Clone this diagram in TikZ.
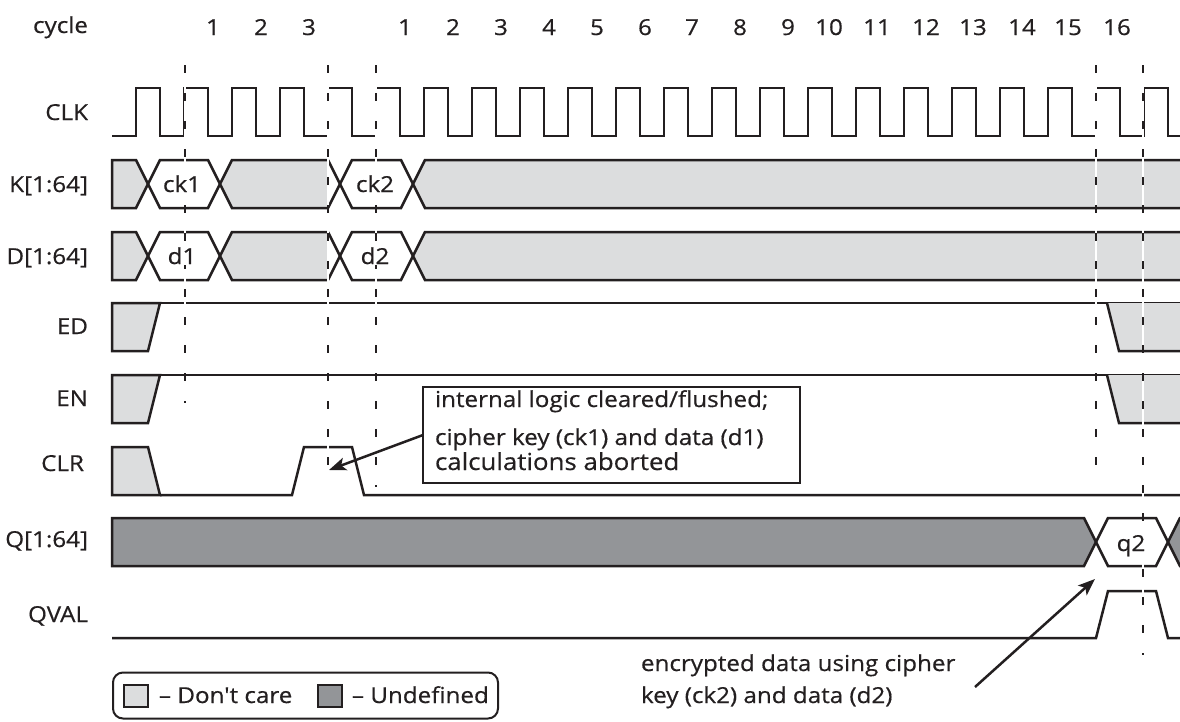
\documentclass[tikz,border=0pt]{standalone}
\usepackage{fontspec}
\newfontfamily\tdfont{Open Sans}[FakeStretch=1.1,FakeBold=0.5]
\usetikzlibrary{arrows.meta}
\definecolor{lg}{HTML}{DCDDDE}
\definecolor{dg}{HTML}{939598}
\definecolor{ink}{HTML}{231F20}
\begin{document}
\begin{tikzpicture}[x=1pt,y=-1pt,
  sig/.style={draw=ink,line width=2.5pt,line join=miter},
  dc/.style={fill=lg},
  ud/.style={fill=dg},
  lbl/.style={anchor=base east,text=ink},
  num/.style={anchor=base,text=ink},
  bustxt/.style={anchor=base,text=ink,fill=white,inner sep=1pt},
  txt/.style={anchor=base west,text=ink},
  guide/.style={draw=ink,line width=1.3pt,dash pattern=on 8pt off 20pt},
  guidebg/.style={draw=white,line width=1.3pt},
  callout/.style={draw=ink,line width=2.5pt,-{Stealth[length=17pt,width=13pt,inset=4pt]}},
  every node/.style={font=\tdfont\fontsize{22}{26}\selectfont,inner sep=0pt,outer sep=0pt}
]
\useasboundingbox (0,0) rectangle (1180,721);
\begin{scope}
\clip (0,0) rectangle (1180,721);

% ---------- row labels ----------
\node[lbl] (lcycle) at (88,33) {cycle};
\node[lbl] (lclk) at (88,120) {CLK};
\node[lbl] (lk) at (88,192) {K[1:64]};
\node[lbl] (ld) at (88,264) {D[1:64]};
\node[lbl] (led) at (88,334) {ED};
\node[lbl] (len) at (88,406) {EN};
\node[lbl] (lclr) at (84,471) {CLR};
\node[lbl] (lq) at (88,547) {Q[1:64]};
\node[lbl] (lqval) at (88,622) {QVAL};

% ---------- cycle numbers ----------
\foreach \x/\t [count=\i] in {213/1,261/2,309/3}
  \node[num] (na\i) at (\x,35) {\t};
\foreach \x/\t [count=\i] in {405/1,453/2,501/3,549/4,597/5,645/6,692/7,740/8,788/9,829/10,877/11,926/12,973/13,1022/14,1068/15,1117/16}
  \node[num] (nb\i) at (\x,35) {\t};

% ---------- CLK ----------
\draw[sig] (112,136) \foreach \k in {0,...,21} { -- ({136+48*\k},136) -- ++(0,-48) -- ++(24,0) -- ++(0,48) } -- (1190,136);

% ---------- K and D buses ----------
\foreach \dy in {0,72} {
\begin{scope}[shift={(0,\dy)}]
\path[dc,sig] (112,160) -- (136,160) -- (148,184) -- (136,208) -- (112,208) -- cycle;
\path[sig] (148,184) -- (160,160) -- (208,160) -- (220,184) -- (208,208) -- (160,208) -- cycle;
\fill[lg] (220,184) -- (232,160) -- (328,160) -- (328,208) -- (232,208) -- cycle;
\draw[sig] (328,160) -- (232,160) -- (220,184) -- (232,208) -- (328,208);
\draw[sig] (328,160) -- (340,184) -- (328,208);
\path[sig] (340,184) -- (352,160) -- (401,160) -- (413,184) -- (401,208) -- (352,208) -- cycle;
\fill[lg] (413,184) -- (425,160) -- (1190,160) -- (1190,208) -- (425,208) -- cycle;
\draw[sig] (1190,160) -- (425,160) -- (413,184) -- (425,208) -- (1190,208);
\end{scope}
}

% ---------- ED and EN ----------
\foreach \dy in {0,72} {
\begin{scope}[shift={(0,\dy)}]
\path[dc,sig] (112,303) -- (160,303) -- (148,351) -- (112,351) -- cycle;
\draw[sig] (160,303) -- (1190,303);
\fill[lg] (1107,303) -- (1119,351) -- (1190,351) -- (1190,303) -- cycle;
\draw[sig] (1107,303) -- (1119,351) -- (1190,351);
\end{scope}
}

% ---------- CLR ----------
\path[dc,sig] (112,447) -- (148,447) -- (160,495) -- (112,495) -- cycle;
\draw[sig] (160,495) -- (292,495) -- (304,447) -- (352,447) -- (364,495) -- (1190,495);

% ---------- Q ----------
\path[ud,sig] (112,518) -- (1084,518) -- (1096,542) -- (1084,566) -- (112,566) -- cycle;
\path[sig] (1096,542) -- (1108,518) -- (1156,518) -- (1168,542) -- (1156,566) -- (1108,566) -- cycle;
\fill[dg] (1168,542) -- (1180,518) -- (1190,518) -- (1190,566) -- (1180,566) -- cycle;
\draw[sig] (1190,518) -- (1180,518) -- (1168,542) -- (1180,566) -- (1190,566);

% ---------- QVAL ----------
\draw[sig] (112,638) -- (1096,638) -- (1108,591) -- (1156,591) -- (1168,638) -- (1190,638);

% ---------- dashed guides ----------
\foreach \gx/\gy in {185/403, 328/482, 376/487, 1096/482, 1143/655} {
  \draw[guidebg] (\gx,65) -- (\gx,\gy);
  \draw[guide] (\gx,65) -- (\gx,\gy);
}

% ---------- bus values ----------
\node[bustxt] (vck1) at (182,192) {ck1};
\node[bustxt] (vck2) at (375,192) {ck2};
\node[bustxt] (vd1) at (182,264) {d1};
\node[bustxt] (vd2) at (375,264) {d2};
\node[bustxt] (vq2) at (1131,551) {q2};

% ---------- callout box ----------
\node[draw=ink,line width=2.5pt,fill=white,minimum width=377pt,minimum height=96pt] (box) at (611.5,435) {};
\node[txt] (bt1) at (435,407) {internal logic cleared/flushed;};
\node[txt] (bt2) at (435,445) {cipher key (ck1) and data (d1)};
\node[txt,font=\tdfont\fontsize{23.5}{27}\selectfont] (bt3) at (435,470) {calculations aborted};
\coordinate (tipA) at (329,470);
\draw[callout] (box.west) -- (tipA);

% ---------- lower annotation ----------
\node[txt] (at1) at (641,671) {encrypted data using cipher};
\node[txt] (at2) at (641,703) {key (ck2) and data (d2)};
\coordinate (tailB) at (975,687);
\coordinate (tipB) at (1095,579);
\draw[callout] (tailB) -- (tipB);

% ---------- legend ----------
\node[draw=ink,line width=2pt,rounded corners=10pt,minimum width=385pt,minimum height=46pt] (legend) at (305.5,695.5) {};
\node[draw=ink,fill=lg,line width=2pt,minimum width=24pt,minimum height=22pt] (sw1) at (136,696) {};
\node[txt] (lt1) at (159,703) {– Don't care};
\node[draw=ink,fill=dg,line width=2pt,minimum width=24pt,minimum height=22pt] (sw2) at (329.5,696) {};
\node[txt] (lt2) at (352,703) {– Undefined};
\end{scope}
\end{tikzpicture}
\end{document}
